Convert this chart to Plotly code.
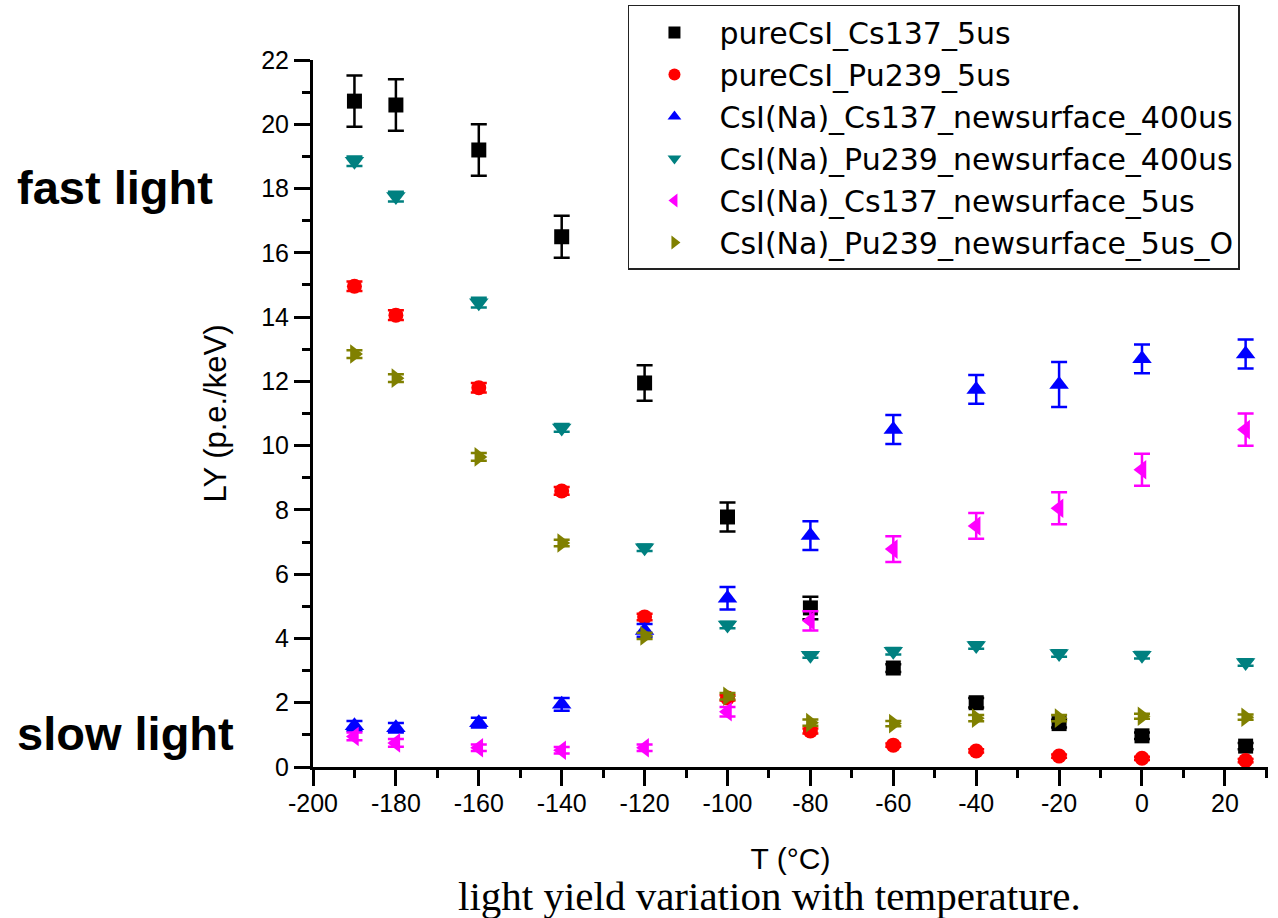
import plotly.graph_objects as go

T = [-190, -180, -160, -140, -120, -100, -80, -60, -40, -20, 0, 25]

names = [
    "pureCsI_Cs137_5us",
    "pureCsI_Pu239_5us",
    "CsI(Na)_Cs137_newsurface_400us",
    "CsI(Na)_Pu239_newsurface_400us",
    "CsI(Na)_Cs137_newsurface_5us",
    "CsI(Na)_Pu239_newsurface_5us_O",
]

pure_cs137 = [20.72, 20.6, 19.2, 16.5, 11.95, 7.78, 4.95, 3.08, 2.0, 1.35, 0.97, 0.65]
pure_cs137_err = [0.8, 0.8, 0.8, 0.65, 0.55, 0.45, 0.35, 0.12, 0.15, 0.12, 0.1, 0.1]

pure_pu239 = [14.96, 14.06, 11.8, 8.59, 4.67, 2.15, 1.12, 0.68, 0.5, 0.34, 0.27, 0.2]
pure_pu239_err = [0.15, 0.15, 0.15, 0.12, 0.1, 0.08, 0.08, 0.05, 0.05, 0.05, 0.05, 0.05]

na_cs137_400 = [1.28, 1.22, 1.38, 1.95, 4.25, 5.25, 7.2, 10.5, 11.75, 11.9, 12.7, 12.85]
na_cs137_400_err = [0.15, 0.15, 0.15, 0.2, 0.2, 0.35, 0.45, 0.45, 0.45, 0.7, 0.45, 0.45]

na_pu239_400 = [18.85, 17.75, 14.45, 10.55, 6.82, 4.42, 3.48, 3.6, 3.78, 3.53, 3.48, 3.25]
na_pu239_400_err = [0.15, 0.15, 0.15, 0.12, 0.1, 0.1, 0.08, 0.1, 0.1, 0.1, 0.1, 0.1]

na_cs137_5 = [0.95, 0.75, 0.6, 0.52, 0.6, 1.72, 4.55, 6.78, 7.5, 8.05, 9.25, 10.5]
na_cs137_5_err = [0.12, 0.12, 0.1, 0.1, 0.1, 0.15, 0.3, 0.4, 0.4, 0.5, 0.5, 0.5]

na_pu239_5 = [12.85, 12.1, 9.65, 6.97, 4.08, 2.2, 1.38, 1.35, 1.52, 1.52, 1.58, 1.55]
na_pu239_5_err = [0.12, 0.12, 0.12, 0.1, 0.1, 0.1, 0.1, 0.08, 0.1, 0.1, 0.08, 0.08]

series_y = [pure_cs137, pure_pu239, na_cs137_400, na_pu239_400, na_cs137_5, na_pu239_5]
series_err = [pure_cs137_err, pure_pu239_err, na_cs137_400_err, na_pu239_400_err,
              na_cs137_5_err, na_pu239_5_err]
colors = ["#000000", "#ff0000", "#0000ff", "#008080", "#ff00ff", "#808000"]
symbols = ["square", "circle", "triangle-up", "triangle-down", "triangle-left", "triangle-right"]
sizes = [15, 15, 17, 17, 17, 17]

x_ticks = list(range(-200, 21, 20))
x_ticktext = [str(v) for v in x_ticks]
y_ticks = list(range(0, 23, 2))

fig = go.Figure()
for i in range(6):
    fig.add_trace(go.Scatter(
        x=T, y=series_y[i], mode="markers", name=names[i],
        marker=dict(symbol=symbols[i], color=colors[i], size=sizes[i]),
        error_y=dict(type="data", array=series_err[i], color=colors[i],
                     thickness=2.5, width=8),
    ))

FONT = "Liberation Sans, Arial"
axis_font = dict(family=FONT, size=25, color="#000000")

fig.update_layout(
    width=1278, height=918,
    margin=dict(l=313, r=10, t=60, b=151, autoexpand=False),
    paper_bgcolor="white", plot_bgcolor="white",
    showlegend=True,
    legend=dict(
        x=0.3298, y=1.0778, xanchor="left", yanchor="top",
        bgcolor="white", bordercolor="#222222", borderwidth=1.5,
        font=dict(family="DejaVu Sans, Liberation Sans", size=30, color="#000000"),
        itemsizing="constant", itemwidth=80,
    ),
    xaxis=dict(
        range=[-200, 30.4], tickvals=x_ticks, ticktext=x_ticktext, ticks="outside",
        ticklen=16, tickwidth=3, ticklabelstandoff=-4,
        tickcolor="black", showline=True, linecolor="black", linewidth=3,
        showgrid=False, zeroline=False, tickfont=axis_font,
        minor=dict(dtick=10, ticks="outside", ticklen=8, tickwidth=3, tickcolor="black"),
        title=dict(text="T (°C)", font=dict(family=FONT, size=30, color="#000000"),
                   standoff=32),
    ),
    yaxis=dict(
        range=[0, 22], tickvals=y_ticks, ticks="outside", ticklen=16, tickwidth=3,
        tickcolor="black", showline=True, linecolor="black", linewidth=3,
        showgrid=False, zeroline=False, tickfont=axis_font,
        minor=dict(dtick=1, ticks="outside", ticklen=8, tickwidth=3, tickcolor="black"),
        title=dict(text="LY (p.e./keV)", font=dict(family=FONT, size=31, color="#000000"),
                   standoff=26),
    ),
)

fig.add_shape(type="rect", xref="paper", yref="paper",
              x0=0.332, x1=0.4136, y0=1.0170, y1=1.0735,
              line=dict(color="#ff2020", width=1.5))

fig.add_annotation(text="<b>fast light</b>", xref="paper", yref="paper",
                   x=-0.312, y=0.820, xanchor="left", yanchor="middle", showarrow=False,
                   font=dict(family=FONT, size=47, color="black"))
fig.add_annotation(text="<b>slow light</b>", xref="paper", yref="paper",
                   x=-0.312, y=0.048, xanchor="left", yanchor="middle", showarrow=False,
                   font=dict(family=FONT, size=47, color="black"))
fig.add_annotation(text="light yield variation with temperature.", xref="paper", yref="paper",
                   x=0.4785, y=-0.183, xanchor="center", yanchor="middle", showarrow=False,
                   font=dict(family="Liberation Serif, Times New Roman", size=41, color="black"))

fig.write_html("out.html", config={"displayModeBar": False},
               post_script="document.body.style.margin='0';document.body.style.overflow='hidden';")
